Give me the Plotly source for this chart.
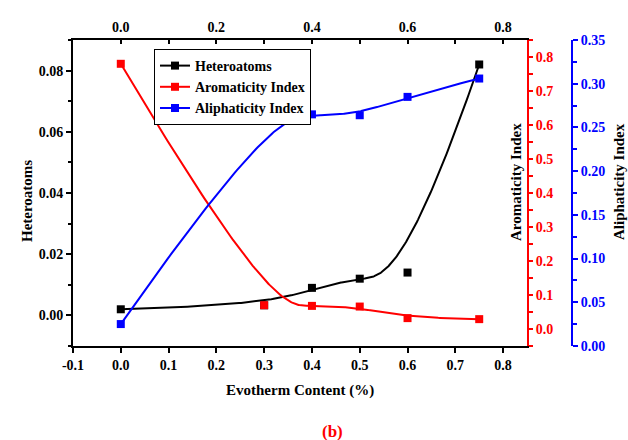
import numpy as np
import plotly.graph_objects as go

# ---- data ----
content = [0.0, 0.3, 0.4, 0.5, 0.6, 0.75]
heteroatoms = [0.002, 0.0033, 0.009, 0.012, 0.014, 0.082]
aromaticity = [0.78, 0.070, 0.068, 0.066, 0.032, 0.029]
aliphaticity = [0.025, 0.258, 0.265, 0.264, 0.285, 0.306]

bottom_ticks = [-0.1, 0.0, 0.1, 0.2, 0.3, 0.4, 0.5, 0.6, 0.7, 0.8]
bottom_labels = ["-0.1", "0.0", "0.1", "0.2", "0.3", "0.4", "0.5", "0.6", "0.7", "0.8"]
top_ticks = [0.0, 0.2, 0.4, 0.6, 0.8]
top_labels = ["0.0", "0.2", "0.4", "0.6", "0.8"]

W, H = 628, 440
FONT = "Liberation Serif"


def px_x(p):
    return p / W


def px_y(p):
    return 1 - p / H


def bspline(xs, ys, n=300, k=3):
    P = np.column_stack([xs, ys])
    m = len(P)
    knots = np.concatenate([np.zeros(k), np.linspace(0, 1, m - k + 1), np.ones(k)])
    t = np.linspace(0, 1, n)
    nb = len(knots) - 1
    N = np.zeros((n, nb))
    for i in range(nb):
        N[:, i] = ((knots[i] <= t) & (t < knots[i + 1])).astype(float)
    N[t >= 1.0, :] = 0
    N[t >= 1.0, m - 1] = 1.0
    for d in range(1, k + 1):
        NN = np.zeros((n, nb - d))
        for i in range(nb - d):
            a = np.zeros(n)
            b = np.zeros(n)
            den1 = knots[i + d] - knots[i]
            den2 = knots[i + d + 1] - knots[i + 1]
            if den1 > 0:
                a = (t - knots[i]) / den1 * N[:, i]
            if den2 > 0:
                b = (knots[i + d + 1] - t) / den2 * N[:, i + 1]
            NN[:, i] = a + b
        N = NN
    C = N[:, :m] @ P
    return C[:, 0], C[:, 1]


x0, x1 = 73, 527
y0, y1 = 40, 346
xdom = [px_x(x0), px_x(x1)]
ydom = [px_y(y1), px_y(y0)]

fig = go.Figure()

series = [
    ("Heteroatoms", heteroatoms, "black", "y"),
    ("Aromaticity Index", aromaticity, "#ff0000", "y2"),
    ("Aliphaticity Index", aliphaticity, "#0000ff", "y3"),
]

for name, vals, col, ax in series:
    cx, cy = bspline(content, vals)
    fig.add_trace(go.Scatter(x=cx, y=cy, mode="lines", line=dict(color=col, width=2),
                             yaxis=ax, showlegend=False, hoverinfo="skip"))
    fig.add_trace(go.Scatter(x=content, y=vals, mode="markers",
                             marker=dict(symbol="square", size=8, color=col),
                             yaxis=ax, showlegend=False))
    fig.add_trace(go.Scatter(x=[None], y=[None], mode="lines+markers", name=name,
                             line=dict(color=col, width=2),
                             marker=dict(symbol="square", size=8, color=col),
                             yaxis=ax, showlegend=True))

# invisible trace so the top axis is drawn
fig.add_trace(go.Scatter(x=[None], y=[None], xaxis="x2", yaxis="y", mode="markers",
                         showlegend=False, hoverinfo="skip"))

tickfont = dict(family=FONT, size=14, color="black", weight="bold")

fig.update_layout(
    width=W, height=H,
    margin=dict(l=0, r=0, t=0, b=0),
    paper_bgcolor="white", plot_bgcolor="white",
    font=dict(family=FONT, size=14, color="black"),
    xaxis=dict(domain=xdom, range=[-0.1, 0.85], tickmode="array", tickvals=bottom_ticks,
               ticktext=bottom_labels,
               ticks="outside", ticklen=5, tickwidth=2, tickcolor="black",
               showline=True, linewidth=2, linecolor="black", mirror=False,
               showgrid=False, zeroline=False, tickfont=tickfont, automargin=False,
               anchor="y"),
    xaxis2=dict(overlaying="x", side="top", range=[-0.1, 0.85], tickmode="array",
                tickvals=top_ticks, ticktext=top_labels,
                ticks="inside", ticklen=4, tickwidth=2, tickcolor="black",
                minor=dict(dtick=0.1, tick0=0, ticks="inside", ticklen=4, tickwidth=2, tickcolor="black"),
                showline=True, linewidth=2, linecolor="black", showgrid=False,
                zeroline=False, tickfont=tickfont, automargin=False, anchor="y"),
    yaxis=dict(domain=ydom, range=[-0.01, 0.09], tick0=0, dtick=0.02, tickformat=".2f",
               ticks="outside", ticklen=5, tickwidth=2, tickcolor="black",
               minor=dict(dtick=0.01, tick0=0, ticks="outside", ticklen=3, tickwidth=2, tickcolor="black"),
               showline=True, linewidth=2, linecolor="black", showgrid=False,
               zeroline=False, tickfont=tickfont, automargin=False, anchor="x"),
    yaxis2=dict(overlaying="y", side="right", anchor="x", range=[-0.05, 0.85], tick0=0,
                dtick=0.1, tickformat=".1f", ticks="outside", ticklen=4, tickwidth=2,
                tickcolor="#ff0000",
                minor=dict(dtick=0.05, tick0=0, ticks="outside", ticklen=4, tickwidth=2, tickcolor="#ff0000"),
                showline=True, linewidth=2, linecolor="#ff0000", showgrid=False,
                zeroline=False, tickfont=dict(family=FONT, size=14, color="#ff0000", weight="bold"),
                automargin=False),
    yaxis3=dict(overlaying="y", side="right", anchor="free", position=px_x(572),
                range=[-0.0001, 0.3501], tick0=0, dtick=0.05, tickformat=".2f",
                ticks="outside", ticklen=5, tickwidth=2, tickcolor="#0000ff",
                minor=dict(dtick=0.025, tick0=0, ticks="outside", ticklen=4, tickwidth=2, tickcolor="#0000ff"),
                showline=True, linewidth=2, linecolor="#0000ff", showgrid=False,
                zeroline=False, tickfont=dict(family=FONT, size=14, color="#0000ff", weight="bold"),
                automargin=False),
    legend=dict(x=px_x(154), y=px_y(49), xanchor="left", yanchor="top",
                bgcolor="white", bordercolor="black", borderwidth=1,
                font=dict(family=FONT, size=14, color="black", weight="bold"),
                itemwidth=30, tracegroupgap=0),
    showlegend=True,
)

annots = [
    dict(text="<b>Heteroatoms</b>", x=px_x(27), y=px_y(201), textangle=-90, color="black", size=15),
    dict(text="<b>Aromaticity Index</b>", x=px_x(516), y=px_y(182), textangle=-90, color="black", size=15),
    dict(text="<b>Aliphaticity Index</b>", x=px_x(619), y=px_y(182), textangle=-90, color="black", size=15),
    dict(text="<b>Evotherm Content (%)</b>", x=px_x(300), y=px_y(390), textangle=0, color="black", size=15),
    dict(text="<b>(b)</b>", x=px_x(332), y=px_y(431), textangle=0, color="#ff0000", size=17),
]
for a in annots:
    fig.add_annotation(text=a["text"], x=a["x"], y=a["y"], xref="paper", yref="paper",
                       xanchor="center", yanchor="middle", showarrow=False,
                       textangle=a["textangle"],
                       font=dict(family=FONT, size=a["size"], color=a["color"]))

fig.write_html("out.html")
